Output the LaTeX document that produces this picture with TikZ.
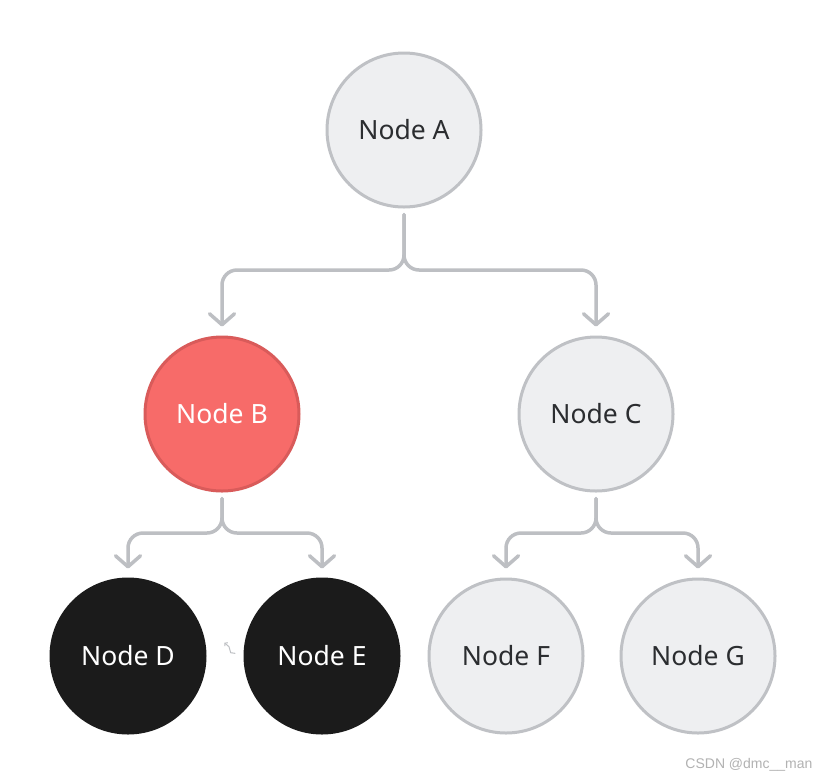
\documentclass[tikz,border=0pt]{standalone}
\usepackage{fontspec}
\setmainfont{Noto Sans}
\newfontfamily\wmfont{Liberation Sans}
\usetikzlibrary{arrows.meta}
\definecolor{edgegray}{HTML}{BDBFC3}
\definecolor{lightfill}{HTML}{EEEFF1}
\definecolor{lightborder}{HTML}{BFC1C5}
\definecolor{redfill}{HTML}{F76B69}
\definecolor{redborder}{HTML}{D95B5A}
\definecolor{darkfill}{HTML}{1B1B1B}
\definecolor{textdark}{HTML}{2B2D30}
\tikzset{
  treenode/.style={circle, minimum size=154pt, inner sep=0pt, line width=3pt, font=\fontsize{26.5}{30}\selectfont},
  lightnode/.style={treenode, draw=lightborder, fill=lightfill, text=textdark},
  rednode/.style={treenode, draw=redborder, fill=redfill, text=white},
  darknode/.style={treenode, draw=darkfill, fill=darkfill, text=white},
  conn/.style={draw=edgegray, line width=3.5pt, line cap=round, line join=round, rounded corners=15pt,
    -{Straight Barb[length=11pt,width=25pt,line cap=round,line join=round]}, shorten <=6pt, shorten >=9pt}
}
\begin{document}
\begin{tikzpicture}[x=1pt,y=-1pt]
\useasboundingbox[fill=white] (0,0) rectangle (826,780);
\node[lightnode] (A) at (404,130) {Node A};
\node[rednode] (B) at (222,414) {Node B};
\node[lightnode] (C) at (596,414) {Node C};
\node[darknode] (D) at (128,656) {Node D};
\node[darknode] (E) at (322,656) {Node E};
\node[lightnode] (F) at (506,656) {Node F};
\node[lightnode] (G) at (698,656) {Node G};
\coordinate (ja) at (404,270);
\coordinate (jb) at (222,533);
\coordinate (jc) at (596,533);
\draw[conn] (A.south) -- (ja) -| (B.north);
\draw[conn] (A.south) -- (ja) -| (C.north);
\draw[conn] (B.south) -- (jb) -| (D.north);
\draw[conn] (B.south) -- (jb) -| (E.north);
\draw[conn] (C.south) -- (jc) -| (F.north);
\draw[conn] (C.south) -- (jc) -| (G.north);
\draw[edgegray, line width=1pt, line cap=round, -{Straight Barb[length=2pt,width=4.5pt]}]
  (235,653.3) -- (230.7,652.7) -- (229,646.7) -- (224.3,642.7);
\node[anchor=east, text=black!30, font=\wmfont\fontsize{14}{16}\selectfont] (wm) at (816,765) {CSDN @dmc\_\_man};
\end{tikzpicture}
\end{document}
